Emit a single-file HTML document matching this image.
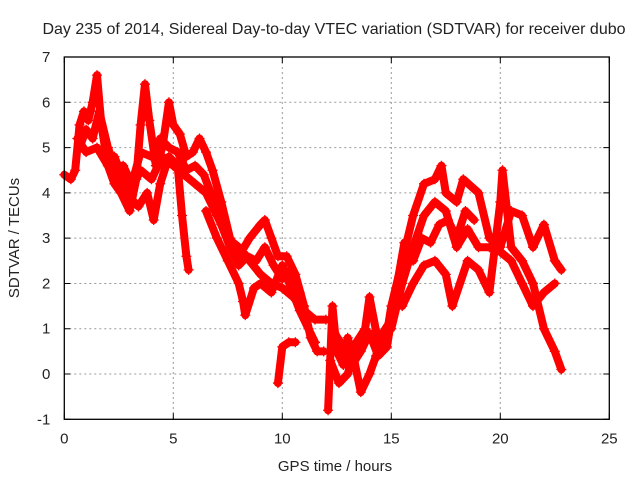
<!DOCTYPE html>
<html><head><meta charset="utf-8"><style>
body{margin:0;background:#fff;}
svg text{font-family:"Liberation Sans",sans-serif;fill:#222;}
</style></head><body>
<svg id="c" width="640" height="480">
<text x="334" y="34" font-size="16" text-anchor="middle">Day 235 of 2014, Sidereal Day-to-day VTEC variation (SDTVAR) for receiver dubo</text>
<text x="335" y="471" font-size="15" text-anchor="middle">GPS time / hours</text>
<text transform="translate(19,238) rotate(-90)" font-size="15" text-anchor="middle">SDTVAR / TECUs</text>
<g id="grid"></g>
<g id="marks"></g>
<rect x="64.3" y="57" width="545" height="362.3" fill="none" stroke="#000" stroke-width="1.3"/>
</svg>
<script>
const xTicks=[0,5,10,15,20,25];
const yTicks=[-1,0,1,2,3,4,5,6,7];
const trackA=[[0,4.4],[0.3,4.3],[0.5,4.5],[0.7,5.5],[0.9,5.8],[1.1,5.6],[1.3,6.0],[1.5,6.6],[1.7,5.5],[2.0,4.6],[2.3,4.2],[2.6,4.0],[3.0,3.6],[3.3,4.3],[3.5,5.5],[3.7,6.4],[3.9,5.6],[4.2,4.6],[4.5,5.0],[4.8,6.0],[5.0,5.5],[5.3,5.3],[5.6,4.8],[5.9,4.9],[6.2,5.2],[6.5,4.9],[6.8,4.5],[7.2,3.8],[7.6,3.0],[8.0,2.6],[8.5,3.0],[9.0,3.3],[9.2,3.4],[9.5,3.0],[9.8,2.6],[10.2,2.6],[10.6,2.2],[11.0,1.5],[11.3,0.8],[11.6,0.5],[11.9,0.5]];
const trackB=[[0.6,5.2],[1.0,4.9],[1.5,5.0],[2.0,4.6],[2.5,4.3],[3.0,4.0],[3.5,4.5],[4.0,4.3],[4.5,4.8],[5.0,4.6],[5.5,4.4],[6.0,4.2],[6.5,4.0],[7.0,3.5],[7.5,3.0],[8.0,2.8],[8.5,2.5],[9.0,2.2],[9.5,2.0],[10.0,1.9],[10.5,1.7],[11.0,1.4],[11.5,1.2],[12.0,1.2]];
const trackC=[[2.3,4.8],[2.7,4.3],[3.0,3.9],[3.4,3.7],[3.8,4.0],[4.1,3.4],[4.4,4.2],[4.8,4.8],[5.2,4.6],[5.4,3.5],[5.6,2.6],[5.7,2.3]];
const trackD=[[6.5,3.6],[7.0,3.0],[7.5,2.5],[8.0,2.0],[8.2,1.6],[8.3,1.3],[8.7,1.9],[9.0,2.0],[9.5,1.8],[10.0,2.4],[10.4,1.9],[10.8,1.4],[11.2,1.0],[11.5,0.7]];
const trackE=[[9.8,-0.2],[10.0,0.6],[10.3,0.7],[10.6,0.7]];
const trackF=[[12.1,-0.8],[12.3,1.5],[12.5,0.5],[12.8,0.2],[13.0,0.8],[13.3,0.3],[13.6,-0.4],[14.0,0.0],[14.3,0.4],[14.6,0.9],[15.0,1.2]];
const trackG=[[12.2,0.3],[12.6,-0.2],[13.0,0.0],[13.4,0.7],[13.8,1.0],[14.0,1.7],[14.4,0.7],[14.8,0.9],[15.0,1.5],[15.5,2.5],[16.0,3.5],[16.5,4.2],[17.0,4.3],[17.3,4.6],[17.5,4.0],[18.0,3.8],[18.3,4.3],[19.0,4.0],[19.5,3.0],[20.0,2.8],[20.5,3.6],[21.0,3.5],[21.5,2.8],[22.0,3.3],[22.5,2.5],[22.8,2.3]];
const trackH=[[15.0,1.0],[15.5,2.0],[16.0,2.8],[16.5,3.5],[17.0,3.8],[17.5,3.6],[18.0,2.8],[18.5,3.2],[19.0,2.8],[19.5,2.8],[20.0,2.7],[20.5,2.5],[21.0,2.0],[21.5,1.5],[22.0,1.8],[22.5,2.0]];
const trackI=[[15.5,1.5],[16.0,2.0],[16.5,2.4],[17.0,2.5],[17.5,2.2],[17.8,1.5],[18.5,2.5],[19.0,2.3],[19.5,1.8],[20.0,3.8],[20.1,4.5],[20.5,2.8],[21.0,2.5],[21.5,2.0],[22.0,1.0],[22.5,0.5],[22.8,0.1]];
const trackJ=[[0.7,5.0],[1.0,5.4],[1.3,5.2],[1.6,5.8],[2.0,5.0],[2.3,4.6],[2.7,4.6],[3.1,4.2],[3.5,4.9],[4.0,4.8],[4.4,5.2],[4.8,5.0],[5.2,4.9],[5.6,4.5],[6.0,4.6],[6.4,4.4],[6.8,3.9],[7.2,3.3],[7.6,2.8],[8.0,2.4],[8.4,2.6],[8.8,2.5],[9.2,2.8],[9.6,2.4],[10.0,2.1],[10.4,2.3],[10.8,1.8]];
const trackK=[[12.4,0.9],[12.8,0.6],[13.2,0.2],[13.6,0.5],[14.0,0.9],[14.4,0.4],[14.8,0.6],[15.2,1.8],[15.6,2.9],[16.0,2.5],[16.4,3.0],[16.8,2.9],[17.2,3.3],[17.6,3.4],[18.0,3.0],[18.4,3.6],[18.8,3.4]];
const tracks=[trackA,trackB,trackC,trackD,trackE,trackF,trackG,trackH,trackI,trackJ,trackK];
const L=64.3,R=609.3,T=57,B=419.3;
function sx(v){return L+(v-0)/25*(R-L);}
function sy(v){return B-(v+1)/8*(B-T);}
const NS='http://www.w3.org/2000/svg';
const g=document.getElementById('grid'),m=document.getElementById('marks'),svg=document.getElementById('c');
function mk(tag,attrs,parent){const e=document.createElementNS(NS,tag);for(const k in attrs)e.setAttribute(k,attrs[k]);parent.appendChild(e);return e;}
xTicks.forEach(t=>{const x=sx(t);
 if(t>0&&t<25){const l=mk('line',{x1:x,x2:x,y1:T,y2:B,stroke:'#999','stroke-dasharray':'2,3'},g);}
 const tk=mk('path',{d:`M${x},${B}v-6M${x},${T}v6`,stroke:'#000'},g);
 const tx=mk('text',{x:x,y:B+24,'font-size':15,'text-anchor':'middle'},svg);tx.textContent=t;
 });
yTicks.forEach(t=>{const y=sy(t);
 if(t>-1&&t<7){const l=mk('line',{x1:L,x2:R,y1:y,y2:y,stroke:'#999','stroke-dasharray':'2,3'},g);}
 const tk=mk('path',{d:`M${L},${y}h6M${R},${y}h-6`,stroke:'#000'},g);
 const tx=mk('text',{x:L-14,y:y+5,'font-size':15,'text-anchor':'end'},svg);tx.textContent=t;
 });
tracks.forEach(tr=>{
 const pl=mk('polyline',{points:tr.map(p=>sx(p[0])+','+sy(p[1])).join(' '),fill:'none',stroke:'#f00','stroke-width':8,'stroke-linejoin':'round','stroke-linecap':'round'},m);
 
 
 tr.forEach(p=>{const x=sx(p[0]),y=sy(p[1]);
  const e=mk('path',{d:`M${x-5},${y}h10M${x},${y-5}v10`,stroke:'#f00','stroke-width':1.3},m);
  
  });
});
</script>
</body></html>
